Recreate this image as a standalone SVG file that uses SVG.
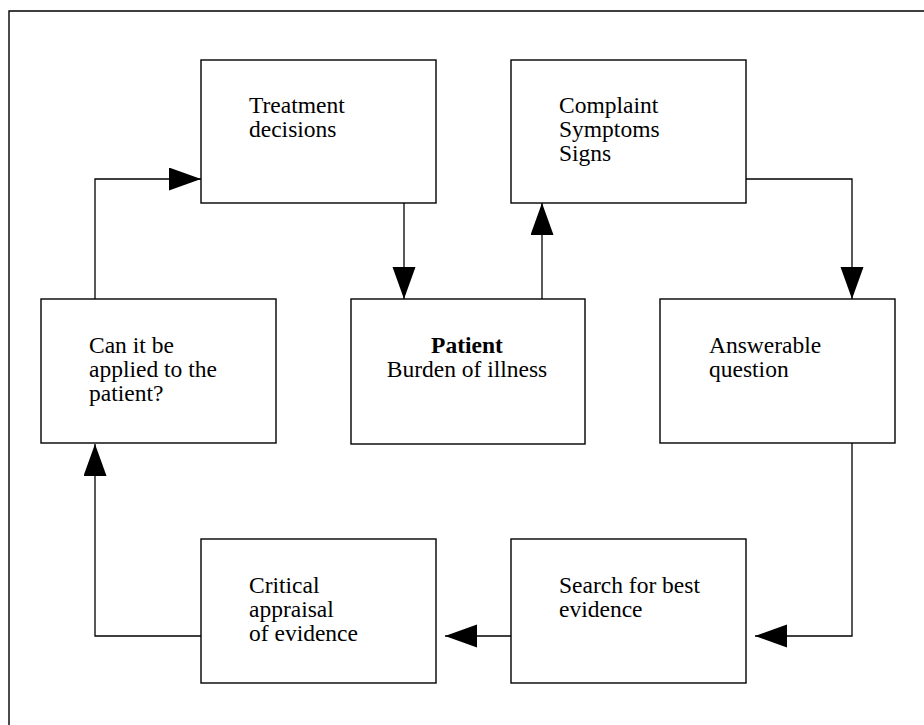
<svg xmlns="http://www.w3.org/2000/svg" width="924" height="725" viewBox="0 0 924 725">
<defs>
<marker id="ah" markerUnits="userSpaceOnUse" markerWidth="34" markerHeight="24" refX="32" refY="11.5" orient="auto">
<path d="M0,0 L32,11.5 L0,23 Z" fill="#000"/>
</marker>
</defs>
<style>
.frame{fill:none;stroke:#000;stroke-width:1.4}
.box{fill:#fff;stroke:#000;stroke-width:1.4}
.con{fill:none;stroke:#000;stroke-width:1.3}
text{font-family:"Liberation Serif","Times New Roman",serif;font-size:23.5px;fill:#000}
.b{font-weight:bold}
</style>
<rect width="924" height="725" fill="#fff"/>
<path class="frame" d="M9,730 L9,11 L930,11"/>
<g id="connectors">
<path class="con" d="M95,299 L95,179 L201,179" marker-end="url(#ah)"/>
<path class="con" d="M404,203 L404,299" marker-end="url(#ah)"/>
<path class="con" d="M542,299 L542,203" marker-end="url(#ah)"/>
<path class="con" d="M746,179 L852,179 L852,299" marker-end="url(#ah)"/>
<path class="con" d="M852,443 L852,636 L755,636" marker-end="url(#ah)"/>
<path class="con" d="M511,636 L445,636" marker-end="url(#ah)"/>
<path class="con" d="M201,636 L95,636 L95,444" marker-end="url(#ah)"/>
</g>
<g id="treatment">
<rect class="box" x="201" y="60" width="235" height="143"/>
<text x="249" y="113">Treatment</text>
<text x="249" y="137">decisions</text>
</g>
<g id="complaint">
<rect class="box" x="511" y="60" width="235" height="143"/>
<text x="559" y="113">Complaint</text>
<text x="559" y="137">Symptoms</text>
<text x="559" y="161">Signs</text>
</g>
<g id="apply">
<rect class="box" x="41" y="299" width="235" height="144"/>
<text x="89" y="353">Can it be</text>
<text x="89" y="377">applied to the</text>
<text x="89" y="401">patient?</text>
</g>
<g id="patient">
<rect class="box" x="351" y="299" width="234" height="145"/>
<text class="b" x="467" y="353" text-anchor="middle">Patient</text>
<text x="467" y="377" text-anchor="middle">Burden of illness</text>
</g>
<g id="answerable">
<rect class="box" x="660" y="299" width="235" height="144"/>
<text x="709" y="353">Answerable</text>
<text x="709" y="377">question</text>
</g>
<g id="critical">
<rect class="box" x="201" y="539" width="235" height="144"/>
<text x="249" y="593">Critical</text>
<text x="249" y="617">appraisal</text>
<text x="249" y="641">of evidence</text>
</g>
<g id="search">
<rect class="box" x="511" y="539" width="235" height="144"/>
<text x="559" y="593">Search for best</text>
<text x="559" y="617">evidence</text>
</g>
</svg>
